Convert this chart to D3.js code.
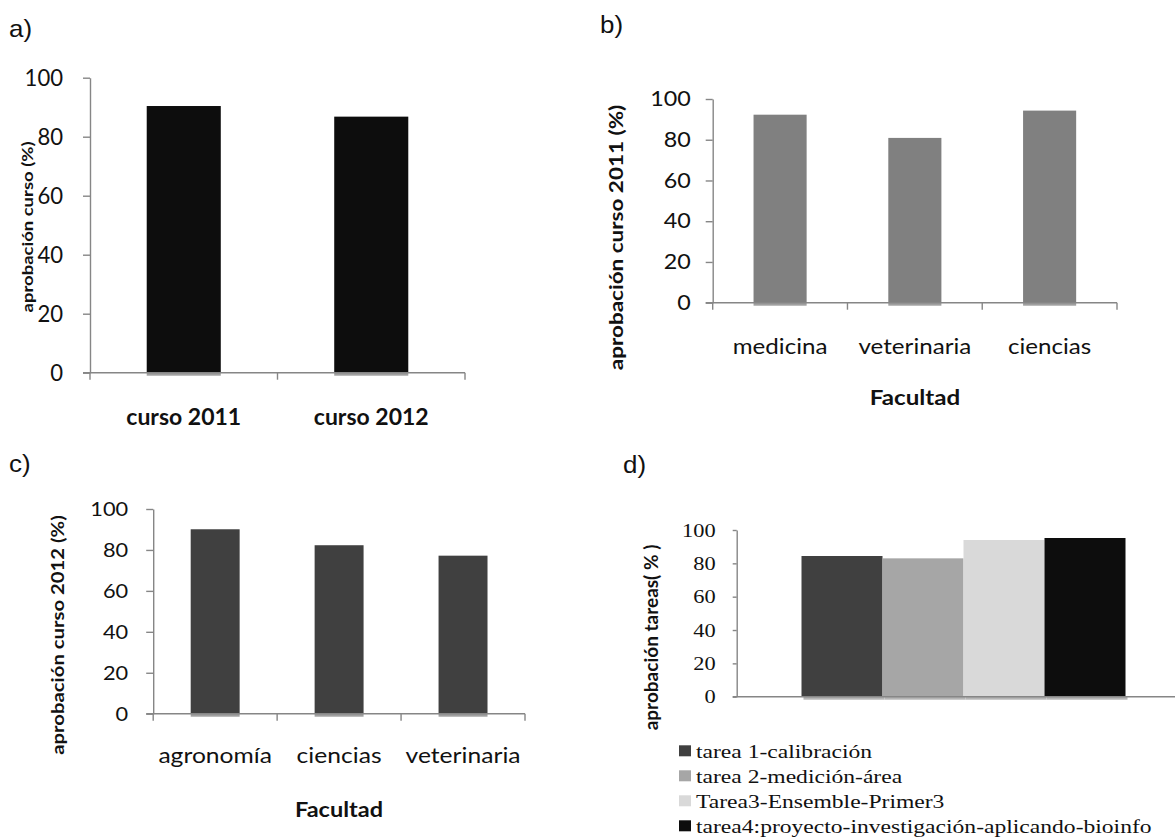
<!DOCTYPE html>
<html><head><meta charset="utf-8">
<script src="https://cdn.jsdelivr.net/npm/d3@7"></script>
<style>
html,body{margin:0;padding:0;background:#fff;}
svg{display:block;}
</style></head>
<body>
<svg id="chart" width="1175" height="839"></svg>
<script>
// ---------- data ----------
const yTicks = [0, 20, 40, 60, 80, 100];

const catsA = ["curso 2011", "curso 2012"];
const valsA = [90.4, 86.8];

const catsB = ["medicina", "veterinaria", "ciencias"];
const valsB = [92.3, 80.9, 94.3];

const catsC = ["agronomía", "ciencias", "veterinaria"];
const valsC = [90.1, 82.3, 77.2];

const seriesD = ["tarea 1-calibración", "tarea 2-medición-área", "Tarea3-Ensemble-Primer3", "tarea4:proyecto-investigación-aplicando-bioinfo"];
const valsD = [84.4, 83.0, 94.0, 95.2];
const colorsD = ["#404040", "#a6a6a6", "#d9d9d9", "#0d0d0d"];

// ---------- drawing ----------
const svg = d3.select("#chart");
const AX = "#868686";
const SANS = "Lato, 'Open Sans', sans-serif";
const SERIF = "'Liberation Serif', 'DejaVu Serif', serif";

function panelLabel(txt, x, y) {
  svg.append("text").attr("transform", `translate(${x},${y}) scale(1.08,1)`).text(txt)
    .attr("font-family", "'Liberation Sans', Arial, sans-serif").attr("font-size", 24).attr("fill", "#111");
}

function barPanel(o) {
  const g = svg.append("g");
  const y = d3.scaleLinear().domain([0, 100]).range([o.y0, o.y1]);
  const pi = o.pad;
  const x = d3.scaleBand().domain(o.cats).range([o.x0, o.x1]).paddingInner(pi).paddingOuter(pi / 2);
  // y axis
  const ya = g.append("g").attr("transform", `translate(${o.x0},0)`)
    .call(d3.axisLeft(y).tickValues(yTicks).tickSize(7).tickPadding(o.tickPad).tickSizeOuter(0));
  ya.select(".domain").attr("stroke", AX).attr("stroke-width", 1.4);
  ya.selectAll(".tick line").attr("stroke", AX).attr("stroke-width", 1.4);
  ya.selectAll(".tick text").attr("font-family", SANS).attr("font-size", o.tickSize).attr("fill", "#111")
    .attr("x", -(7 + o.tickPad) / o.sx).attr("transform", `scale(${o.sx},1)`);
  // bars
  g.selectAll("rect.shadow").data(o.vals).join("rect").attr("class", "shadow")
    .attr("x", (d, i) => x(o.cats[i])).attr("width", x.bandwidth())
    .attr("y", y(0)).attr("height", 3).attr("fill", "#a0a0a0");
  g.selectAll("rect.bar").data(o.vals).join("rect").attr("class", "bar")
    .attr("x", (d, i) => x(o.cats[i])).attr("width", x.bandwidth())
    .attr("y", d => y(d)).attr("height", d => y(0) - y(d)).attr("fill", o.color);
  // x axis line + boundary ticks
  g.append("line").attr("x1", o.x0 - 7).attr("x2", o.x1).attr("y1", y(0)).attr("y2", y(0))
    .attr("stroke", AX).attr("stroke-width", 1.4);
  const bounds = d3.range(o.cats.length + 1).map(i => x(o.cats[0]) - x.step() * pi / 2 + i * x.step());
  g.selectAll("line.xt").data(bounds).join("line").attr("class", "xt")
    .attr("x1", d => d).attr("x2", d => d).attr("y1", y(0)).attr("y2", y(0) + 7)
    .attr("stroke", AX).attr("stroke-width", 1.4);
  // category labels
  const xa = g.append("g").attr("transform", `translate(0,${o.y0})`)
    .call(d3.axisBottom(x).tickSize(0).tickPadding(o.catPad));
  xa.select(".domain").remove();
  xa.selectAll(".tick text").attr("font-family", SANS).attr("font-size", o.catSize)
    .attr("font-weight", o.catBold ? "bold" : "normal").attr("fill", "#111")
    .attr("transform", `scale(${o.catSx},1)`);
  // titles
  g.append("text").attr("transform", `translate(${o.ytx},${o.yty}) scale(${o.ytSx},1) rotate(-90)`)
    .attr("text-anchor", "middle").attr("font-family", SANS).attr("font-weight", "bold")
    .attr("font-size", o.ytSize).attr("fill", "#111").text(o.ytitle);
  if (o.xtitle) {
    g.append("text").attr("transform", `translate(${o.xtx},${o.xty}) scale(${o.catSx},1)`)
      .attr("text-anchor", "middle")
      .attr("font-family", SANS).attr("font-weight", "bold").attr("font-size", o.xtSize)
      .attr("fill", "#111").text(o.xtitle);
  }
}

// a)
panelLabel("a)", 9, 37);
barPanel({cats: catsA, vals: valsA, color: "#0d0d0d", x0: 90, x1: 465, y0: 372.7, y1: 77.7, pad: 0.605,
  tickSize: 23, tickPad: 20, sx: 0.96, catSize: 23, catBold: true, catPad: 36, catSx: 1,
  ytitle: "aprobación curso (%)", ytx: 33, yty: 227, ytSize: 18.5, ytSx: 0.82});

// b)
panelLabel("b)", 600, 33);
barPanel({cats: catsB, vals: valsB, color: "#808080", x0: 712.7, x1: 1117, y0: 302.7, y1: 99, pad: 0.606,
  tickSize: 21, tickPad: 15, sx: 1.11, catSize: 21, catPad: 36, catSx: 1.15,
  ytitle: "aprobación curso 2011 (%)", ytx: 623, yty: 237.5, ytSize: 22.5, ytSx: 0.8,
  xtitle: "Facultad", xtx: 915, xty: 405, xtSize: 21});

// c)
panelLabel("c)", 9, 472);
barPanel({cats: catsC, vals: valsC, color: "#404040", x0: 153.2, x1: 525, y0: 713.7, y1: 509, pad: 0.605,
  tickSize: 20, tickPad: 18, sx: 1.09, catSize: 22, catPad: 34, catSx: 1.12,
  ytitle: "aprobación curso 2012 (%)", ytx: 64, yty: 635, ytSize: 20.3, ytSx: 0.8,
  xtitle: "Facultad", xtx: 339, xty: 816.7, xtSize: 21});

// d)
panelLabel("d)", 623, 472.7);
(function () {
  const g = svg.append("g");
  const x0 = 736.7, x1 = 1190.3, y0 = 696.7, y1 = 530, sx = 1.18, tk = 4, tp = 17;
  const y = d3.scaleLinear().domain([0, 100]).range([y0, y1]);
  const xc = d3.scaleBand().domain(["all"]).range([x0, x1]).paddingInner(0).paddingOuter(0.2);
  const xs = d3.scaleBand().domain(seriesD).range([0, xc.bandwidth()]).padding(0);
  const ya = g.append("g").attr("transform", `translate(${x0},0)`)
    .call(d3.axisLeft(y).tickValues(yTicks).tickSize(tk).tickPadding(tp).tickSizeOuter(0));
  ya.select(".domain").attr("stroke", AX).attr("stroke-width", 1.4);
  ya.selectAll(".tick line").attr("stroke", AX).attr("stroke-width", 1.4);
  ya.selectAll(".tick text").attr("font-family", SERIF).attr("font-size", 19).attr("fill", "#111")
    .attr("x", -(tk + tp) / sx).attr("transform", `scale(${sx},1)`);
  g.selectAll("rect.shadow").data(valsD).join("rect").attr("class", "shadow")
    .attr("x", (d, i) => xc("all") + xs(seriesD[i]) + 2).attr("width", xs.bandwidth())
    .attr("y", y(0)).attr("height", 3).attr("fill", "#b5b5b5");
  g.selectAll("rect.bar").data(valsD).join("rect").attr("class", "bar")
    .attr("x", (d, i) => xc("all") + xs(seriesD[i])).attr("width", xs.bandwidth())
    .attr("y", d => y(d)).attr("height", d => y(0) - y(d)).attr("fill", (d, i) => colorsD[i]);
  g.append("line").attr("x1", x0 - tk).attr("x2", 1175).attr("y1", y0).attr("y2", y0)
    .attr("stroke", AX).attr("stroke-width", 1.6);
  g.append("text").attr("transform", `translate(658,637.5) rotate(-90)`)
    .attr("text-anchor", "middle").attr("font-family", SANS).attr("font-weight", "bold")
    .attr("font-size", 19).attr("fill", "#111").text("aprobación tareas( % )");
  // legend
  const lg = g.append("g");
  const rows = lg.selectAll("g").data(seriesD).join("g")
    .attr("transform", (d, i) => `translate(679,${758.3 + i * 25})`);
  rows.append("rect").attr("x", 0).attr("y", -13).attr("width", 12).attr("height", 11)
    .attr("fill", (d, i) => colorsD[i]);
  rows.append("text").attr("transform", `translate(17,0) scale(1.21,1)`)
    .attr("font-family", SERIF).attr("font-size", 19.5)
    .attr("fill", "#111").text(d => d);
})();
</script>
</body></html>
